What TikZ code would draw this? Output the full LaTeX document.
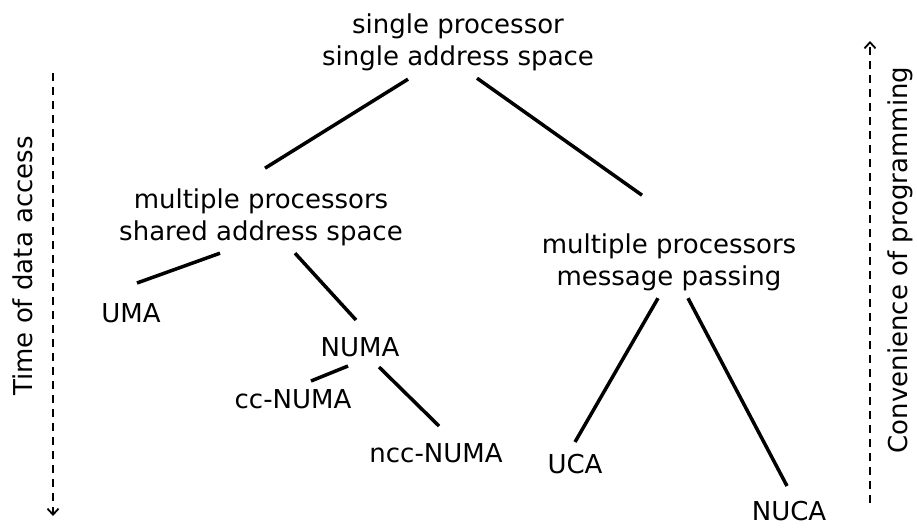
\documentclass[tikz,border=0pt]{standalone}
\usepackage{fontspec}
\setmainfont{DejaVu Sans}
\usetikzlibrary{arrows.meta}
\tikzset{
  lbl/.style={inner sep=0pt, align=center, font=\fontsize{26}{32}\selectfont},
  branch/.style={line width=3.5pt},
  axisarrow/.style={line width=2.2pt, dash pattern=on 8pt off 6pt,
    -{Straight Barb[length=6pt,width=11pt,line width=1.8pt]}},
}
\begin{document}
\begin{tikzpicture}[x=1pt,y=-1pt]
  \useasboundingbox (0,0) rectangle (917,527);

  % tree labels
  \node[lbl] (root) at (458,42.2) {single processor\\single address space};
  \node[lbl] (shm)  at (261,217.2) {multiple processors\\shared address space};
  \node[lbl] (msg)  at (669,262.2) {multiple processors\\message passing};
  \node[lbl,anchor=base] (uma)  at (131,322) {UMA};
  \node[lbl,anchor=base] (numa) at (360,356) {NUMA};
  \node[lbl,anchor=base] (cc)   at (293,408) {cc-NUMA};
  \node[lbl,anchor=base] (ncc)  at (436,462) {ncc-NUMA};
  \node[lbl,anchor=base] (uca)  at (575,473) {UCA};
  \node[lbl,anchor=base] (nuca) at (789,520) {NUCA};

  % branches
  \draw[branch] ([shift={(-50,37)}]root.center) -- ([shift={(4,-49)}]shm.center);
  \draw[branch] ([shift={(19,36)}]root.center) -- ([shift={(-27,-67)}]msg.center);
  \draw[branch] ([shift={(-41,36)}]shm.center) -- ([shift={(6,-39)}]uma.base);
  \draw[branch] ([shift={(34,36)}]shm.center) -- ([shift={(-4,-36)}]numa.base);
  \draw[branch] ([shift={(-12,10)}]numa.base) -- ([shift={(18,-27)}]cc.base);
  \draw[branch] ([shift={(19,11)}]numa.base) -- ([shift={(3,-36)}]ncc.base);
  \draw[branch] ([shift={(-11,36)}]msg.center) -- ([shift={(0,-31)}]uca.base);
  \draw[branch] ([shift={(19,36)}]msg.center) -- ([shift={(-2,-34)}]nuca.base);

  % side axes
  \coordinate (timeTop) at (53,73);
  \coordinate (timeEnd) at (53,516);
  \coordinate (convBot) at (870,503);
  \coordinate (convEnd) at (870,41);
  \draw[axisarrow] (timeTop) -- (timeEnd);
  \draw[axisarrow] (convBot) -- (convEnd);
  \node[lbl,rotate=90] (timelbl) at (23,266) {Time of data access};
  \node[lbl,rotate=90] (convlbl) at (900,260) {Convenience of programming};
\end{tikzpicture}
\end{document}
